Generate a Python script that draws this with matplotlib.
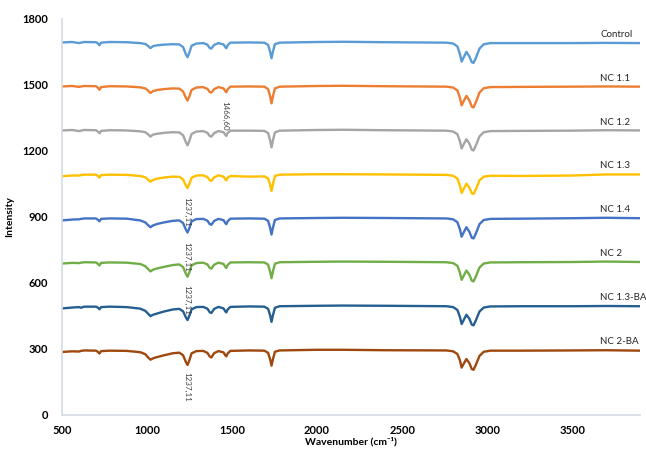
import matplotlib.pyplot as plt

plt.rcParams['font.family'] = ['Lato', 'DejaVu Sans']

# wavenumber grid (cm-1)
wn = [500, 560, 600, 612, 630, 700, 712, 720, 730, 780, 880, 960, 990, 1005, 1020, 1035, 1060,
      1100, 1150, 1190, 1212, 1228, 1238, 1248, 1262, 1290, 1330, 1355, 1368, 1378, 1395, 1420,
      1450, 1460, 1466, 1474, 1490, 1600, 1690, 1712, 1724, 1732, 1740, 1752, 1780, 2000, 2150,
      2400, 2760, 2800, 2825, 2840, 2850, 2862, 2878, 2895, 2910, 2920, 2935, 2955, 2980, 3020,
      3200, 3500, 3700, 3900]

control = [1693, 1695, 1690, 1692, 1695, 1694, 1688, 1680, 1692, 1695, 1694, 1690, 1686, 1678, 1667, 1676, 1680,
           1683, 1685, 1684, 1672, 1640, 1626, 1645, 1678, 1688, 1690, 1683, 1668, 1665, 1682, 1690,
           1684, 1672, 1667, 1680, 1692, 1693, 1692, 1682, 1650, 1621, 1650, 1685, 1692, 1695, 1696,
           1694, 1692, 1688, 1675, 1640, 1606, 1625, 1650, 1630, 1603, 1600, 1625, 1665, 1685, 1690,
           1690, 1690, 1691, 1690]
nc11 = [1493, 1495, 1491, 1493, 1495, 1494, 1486, 1478, 1490, 1494, 1493, 1489, 1484, 1475, 1463, 1472, 1477,
        1481, 1484, 1483, 1470, 1442, 1429, 1446, 1477, 1488, 1490, 1482, 1468, 1465, 1481, 1490,
        1484, 1472, 1467, 1480, 1492, 1493, 1492, 1481, 1447, 1416, 1447, 1484, 1492, 1495, 1496,
        1494, 1492, 1488, 1475, 1441, 1407, 1426, 1450, 1430, 1401, 1398, 1424, 1465, 1485, 1490,
        1491, 1492, 1493, 1492]
nc12 = [1293, 1295, 1290, 1292, 1295, 1294, 1287, 1280, 1291, 1294, 1293, 1289, 1285, 1276, 1265, 1274, 1278,
        1282, 1285, 1284, 1271, 1240, 1225, 1244, 1277, 1288, 1290, 1282, 1268, 1265, 1281, 1290,
        1285, 1273, 1268, 1281, 1292, 1292, 1291, 1281, 1247, 1216, 1247, 1284, 1292, 1295, 1296,
        1294, 1292, 1288, 1276, 1244, 1211, 1230, 1253, 1234, 1205, 1202, 1227, 1266, 1285, 1290,
        1291, 1292, 1294, 1293]
nc13 = [1085, 1088, 1088, 1090, 1092, 1092, 1086, 1079, 1090, 1092, 1091, 1086, 1080, 1070, 1060, 1068, 1074,
        1079, 1083, 1082, 1070, 1043, 1031, 1048, 1078, 1088, 1089, 1081, 1067, 1063, 1080, 1089,
        1083, 1070, 1066, 1078, 1086, 1083, 1084, 1075, 1045, 1018, 1047, 1086, 1092, 1094, 1094,
        1093, 1091, 1087, 1074, 1042, 1009, 1027, 1051, 1034, 1007, 1004, 1028, 1066, 1083, 1087,
        1086, 1088, 1093, 1093]
nc14 = [884, 888, 889, 891, 893, 893, 886, 880, 891, 893, 892, 884, 875, 863, 853, 861, 868,
        875, 882, 884, 872, 843, 829, 847, 880, 890, 891, 883, 868, 864, 882, 891,
        885, 872, 867, 880, 892, 893, 892, 882, 850, 820, 850, 886, 893, 895, 896,
        895, 893, 889, 876, 843, 810, 829, 853, 833, 805, 802, 827, 867, 886, 891,
        892, 894, 896, 894]
nc2 = [688, 691, 690, 692, 694, 693, 686, 679, 691, 693, 692, 686, 676, 664, 652, 660, 666,
       673, 681, 684, 672, 642, 628, 646, 680, 690, 692, 684, 669, 665, 683, 692,
       686, 673, 668, 681, 693, 694, 693, 683, 651, 621, 651, 687, 694, 696, 697,
       696, 694, 690, 678, 646, 614, 632, 656, 638, 610, 607, 632, 670, 688, 693,
       694, 695, 697, 695]
nc13ba = [484, 488, 490, 487, 492, 492, 487, 480, 490, 492, 490, 483, 473, 461, 449, 455, 461,
          470, 479, 482, 471, 444, 431, 449, 480, 490, 491, 483, 467, 463, 482, 491,
          484, 471, 466, 479, 491, 493, 492, 482, 452, 423, 452, 487, 494, 496, 497,
          496, 494, 490, 477, 445, 413, 431, 455, 438, 410, 407, 432, 470, 488, 493,
          494, 494, 495, 494]
nc2ba = [286, 289, 288, 291, 293, 292, 286, 279, 290, 292, 291, 285, 276, 262, 251, 257, 263,
         271, 280, 283, 271, 241, 227, 246, 280, 290, 291, 282, 266, 261, 281, 290,
         284, 271, 266, 279, 291, 293, 292, 282, 252, 224, 252, 287, 293, 296, 296,
         294, 293, 289, 277, 248, 215, 232, 254, 236, 208, 205, 230, 268, 287, 292,
         292, 293, 294, 292]

series = [control, nc11, nc12, nc13, nc14, nc2, nc13ba, nc2ba]
names = ['Control', 'NC 1.1', 'NC 1.2', 'NC 1.3', 'NC 1.4', 'NC 2', 'NC 1.3-BA', 'NC 2-BA']
colors = ['#5B9BD5', '#ED7D31', '#A5A5A5', '#FFC000', '#4472C4', '#70AD47', '#255E91', '#9E480E']
name_y = [1730, 1527, 1330, 1132, 935, 735, 535, 333]

# peak labels (x, y, text)
peak_x = [1459, 1232, 1232, 1232, 1232]
peak_y = [1359, 924, 720, 523, 127]
peak_txt = ['1466,60', '1237,11', '1237,11', '1237,11', '1237,11']

fig = plt.figure(figsize=(6.46, 4.5), dpi=100)
ax = fig.add_axes([0.096, 0.078, 0.895, 0.880])

for y, c in zip(series, colors):
    ax.plot(wn, y, color=c, lw=1.7, solid_joinstyle='round')

for n, yy in zip(names, name_y):
    ax.text(3665, yy, n, fontsize=7, color='#262626', va='center', ha='left', clip_on=False)

for px, py, t in zip(peak_x, peak_y, peak_txt):
    ax.text(px, py, t, rotation=270, fontsize=5.8, color='#404040',
            ha='center', va='center')

ax.set_xlim(500, 3900)
ax.set_ylim(0, 1800)
ax.set_xticks([500, 1000, 1500, 2000, 2500, 3000, 3500])
ax.set_yticks([0, 300, 600, 900, 1200, 1500, 1800])
for lab in ax.get_xticklabels() + ax.get_yticklabels():
    lab.set_fontweight('bold')
    lab.set_fontsize(8)
ax.tick_params(length=0, pad=7)
ax.tick_params(axis='y', pad=10)

for s in ['top', 'right']:
    ax.spines[s].set_visible(False)
for s in ['left', 'bottom']:
    ax.spines[s].set_color('#d6dce5')
    ax.spines[s].set_linewidth(1.2)

ax.set_xlabel('Wavenumber (cm⁻¹)', fontsize=7.5, fontweight='bold', labelpad=1)
ax.set_ylabel('Intensity', fontsize=7.5, fontweight='bold', labelpad=6)

fig.savefig('out.png', dpi=100)
